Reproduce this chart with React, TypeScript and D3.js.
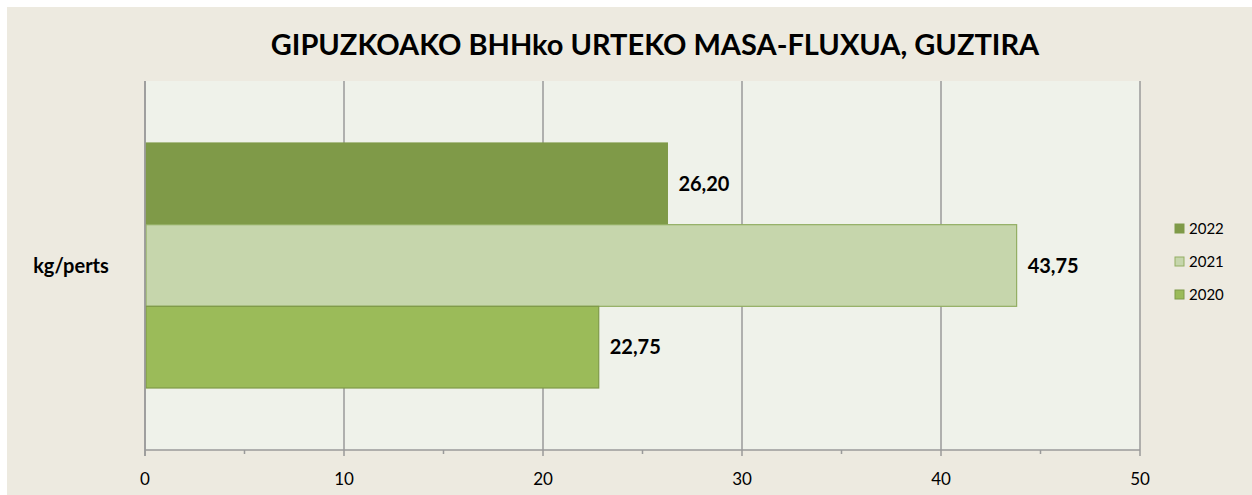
import React from "react";
import * as d3 from "d3";

const title = "GIPUZKOAKO BHHko URTEKO MASA-FLUXUA, GUZTIRA";
const category = "kg/perts";
const seriesNames = ["2022", "2021", "2020"];
const seriesValues = [26.2, 43.75, 22.75];
const seriesLabels = ["26,20", "43,75", "22,75"];
const seriesColors = ["#7F9A48", "#C6D6AC", "#9BBB59"];
const seriesStrokes = ["#7F9A48", "#93AE63", "#7F9A48"];
const xTicks = [0, 10, 20, 30, 40, 50];
const minorTicks = [5, 15, 25, 35, 45];

export default function App() {
  const W = 1252, H = 495;
  const plot = { x0: 145, x1: 1140, y0: 81, y1: 450 };
  const x = d3.scaleLinear().domain([0, 50]).range([plot.x0, plot.x1]);
  const y = d3.scaleBand().domain(seriesNames).range([143, 388]);
  const font = "Lato, 'Open Sans', sans-serif";
  return (
    <svg width={W} height={H} style={{ position: "absolute", left: 0, top: 0 }} fontFamily={font}>
      <rect x={0} y={0} width={W} height={H} fill="#FFFFFF" />
      <rect x={7} y={7} width={W - 7} height={H - 7} fill="#EDEAE0" />
      <rect x={plot.x0} y={plot.y0} width={plot.x1 - plot.x0} height={plot.y1 - plot.y0} fill="#EFF2EA" />
      <text x={655} y={55} textAnchor="middle" fontSize={29} fontWeight="bold" fill="#000">{title}</text>
      {xTicks.map((t) => (
        <line key={"g" + t} x1={x(t)} x2={x(t)} y1={plot.y0} y2={plot.y1 + 6} stroke="#9A9A9A" strokeWidth={1.5} />
      ))}
      {minorTicks.map((t) => (
        <line key={"m" + t} x1={x(t)} x2={x(t)} y1={plot.y1} y2={plot.y1 + 4} stroke="#9A9A9A" strokeWidth={1.5} />
      ))}
      <line x1={plot.x0} x2={plot.x1} y1={plot.y1} y2={plot.y1} stroke="#9A9A9A" strokeWidth={1.5} />
      {seriesNames.map((s, i) => (
        <rect key={s} x={x(0) + 1} y={y(s)!} width={x(seriesValues[i]) - x(0)} height={y.bandwidth()}
          fill={seriesColors[i]} stroke={seriesStrokes[i]} strokeWidth={1.2} />
      ))}
      <line x1={plot.x0} x2={plot.x0} y1={plot.y0} y2={plot.y1 + 6} stroke="#9A9A9A" strokeWidth={1.5} />
      {seriesNames.map((s, i) => (
        <text key={"l" + s} x={x(seriesValues[i]) + 12} y={y(s)! + y.bandwidth() / 2 + 7}
          fontSize={20} fontWeight="bold" fill="#000">{seriesLabels[i]}</text>
      ))}
      {xTicks.map((t) => (
        <text key={"t" + t} x={x(t)} y={485} textAnchor="middle" fontSize={17} fill="#000">{t}</text>
      ))}
      <text x={71} y={273} textAnchor="middle" fontSize={20} fontWeight="bold" fill="#000">{category}</text>
      {seriesNames.map((s, i) => (
        <g key={"lg" + s} transform={`translate(1175, ${224 + i * 33})`}>
          <rect x={0} y={0} width={9} height={9} fill={seriesColors[i]} stroke={seriesStrokes[i]} strokeWidth={1} />
          <text x={14} y={10} fontSize={15} fill="#000">{s}</text>
        </g>
      ))}
    </svg>
  );
}
